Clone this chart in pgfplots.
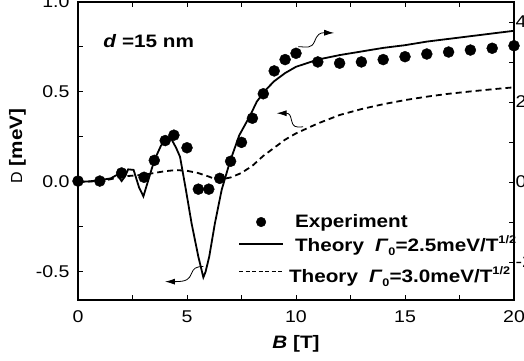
\documentclass[border=0pt]{standalone}
\usepackage{pgfplots}
\pgfplotsset{compat=1.18}
\usepackage{fontspec}
\setmainfont{Liberation Sans}[FakeStretch=1.15]
\newfontfamily\plainD{Liberation Sans}
\usetikzlibrary{arrows.meta}
\newcommand{\sub}[1]{\raisebox{-4pt}{\fontsize{11}{12}\selectfont #1}}
\newcommand{\sups}[1]{\raisebox{8pt}{\fontsize{11}{12}\selectfont #1}}
\begin{document}
\begin{tikzpicture}
\pgfplotsset{
  common/.style={
    scale only axis, width=436pt, height=298pt,
    xmin=0, xmax=20,
    tick align=inside,
    major tick length=5pt, minor tick length=5pt,
    every tick/.style={black, line width=1pt},
    axis line style={line width=1.4pt},
    /pgf/number format/assume math mode=true,
    tick label style={font=\fontsize{17}{20}\selectfont},
  }
}
\begin{axis}[common,
  ymin=-0.656, ymax=1.0,
  xtick={0,5,10,15,20}, xticklabels={0,5,10,15,20},
  minor xtick={2.5,7.5,12.5,17.5},
  ytick={-0.5,0,0.5,1.0}, yticklabels={-0.5,0.0,0.5,1.0},
  minor ytick={-0.25,0.25,0.75},
  ytick pos=left,
  xticklabel style={yshift=-7pt},
  yticklabel style={xshift=-5pt},
  xlabel={\textbf{\textit{B} [T]}},
  xlabel style={font=\fontsize{18}{20}\selectfont, at={(axis description cs:0.5,-0.147)}, anchor=center},
  ylabel={{\plainD\fontsize{16}{18}\selectfont D} \textbf{[meV]}},
  ylabel style={font=\fontsize{18}{20}\selectfont, at={(axis description cs:-0.139,0.517)}, anchor=center, rotate=0},
  clip mode=individual,
  legend image code/.code={\draw[#1] (0pt,0pt) -- (44pt,0pt);},
  legend style={draw=none, fill=none, at={(axis cs:7.34,-0.17)}, anchor=north west,
    font=\fontsize{18}{20}\selectfont, row sep=2pt,
    legend cell align=left, inner sep=0pt,
    nodes={inner sep=2pt, anchor=west}},
]
\addplot[only marks, mark=*, mark size=5.5pt, black,
  legend image code/.code={\fill (22pt,0pt) circle (4.8pt);}]
coordinates {(0,0.005)(1,0.005)(2,0.05)(3.03,0.026)(3.5,0.12)(4,0.23)(4.4,0.26)(5,0.19)(5.52,-0.04)(6,-0.04)(6.5,0.02)(7,0.115)(7.5,0.22)(8,0.354)(8.5,0.49)(9,0.617)(9.5,0.68)(10,0.715)(11,0.667)(12,0.66)(13,0.667)(14,0.68)(15,0.696)(16,0.711)(17,0.722)(18,0.733)(19,0.743)(20,0.757)};
\addlegendentry{\hspace{9pt}\textbf{Experiment}}
\addplot[black, line width=1.8pt]
coordinates {(0,0)(0.5,0.003)(1,0.01)(1.5,0.02)(1.8,0.04)(2.0,0.005)(2.15,0.03)(2.3,0.07)(2.55,0.067)(2.8,-0.03)(3.0,-0.08)(3.2,0.0)(3.5,0.12)(3.8,0.2)(4.0,0.235)(4.15,0.242)(4.3,0.235)(4.5,0.19)(4.68,0.14)(4.95,-0.044)(5.21,-0.23)(5.52,-0.415)(5.75,-0.53)(5.85,-0.5)(6.02,-0.415)(6.28,-0.23)(6.59,-0.044)(6.97,0.113)(7.4,0.26)(7.9,0.37)(8.2,0.446)(8.6,0.51)(9.0,0.56)(9.5,0.605)(10,0.64)(11,0.68)(12,0.705)(13,0.725)(14,0.745)(15,0.76)(16,0.78)(17,0.795)(18,0.81)(19,0.825)(20,0.84)};
\addlegendentry{\hspace{9pt}\textbf{Theory\hspace{11pt}\textit{Γ}\sub{0}=2.5meV/T\sups{1/2}}}
\addplot[black, line width=1.8pt, dash pattern=on 6pt off 4pt,
  legend image code/.code={\draw[black, line width=1.3pt, dash pattern=on 4pt off 2.5pt] (0pt,0pt) -- (44pt,0pt);}]
coordinates {(0,0)(1,0.005)(1.5,0.015)(2,0.03)(2.5,0.035)(3,0.04)(3.5,0.05)(4,0.06)(4.5,0.066)(5,0.062)(5.5,0.05)(6,0.03)(6.3,0.015)(6.6,0.015)(7,0.025)(7.5,0.05)(8,0.09)(8.5,0.145)(9,0.19)(9.5,0.235)(10,0.27)(11,0.325)(12,0.372)(13,0.405)(14,0.432)(15,0.455)(16,0.474)(17,0.49)(18,0.503)(19,0.515)(20,0.526)};
\addlegendentry{\rule{0pt}{24pt}\hspace{3pt}\textbf{Theory\hspace{11pt}\textit{Γ}\sub{0}=3.0meV/T\sups{1/2}}}
\node[anchor=base west, font=\fontsize{18}{20}\selectfont\bfseries] at (axis cs:1.0,0.745) {\textit{d} =15 nm};
\draw[line width=0.8pt, -{Latex[length=10pt,width=6pt]}] (axis cs:10.11,0.752) .. controls (axis cs:10.5,0.75) and (axis cs:10.7,0.74) .. (axis cs:10.85,0.78) .. controls (axis cs:10.97,0.82) and (axis cs:11.1,0.83) .. (axis cs:11.75,0.828);
\draw[line width=0.8pt, -{Latex[length=10pt,width=6pt]}] (axis cs:10.33,0.307) .. controls (axis cs:9.95,0.30) and (axis cs:9.85,0.31) .. (axis cs:9.8,0.34) .. controls (axis cs:9.75,0.37) and (axis cs:9.7,0.382) .. (axis cs:9.11,0.382);
\draw[line width=0.8pt, -{Latex[length=10pt,width=6pt]}] (axis cs:5.75,-0.47) .. controls (axis cs:5.4,-0.47) and (axis cs:5.3,-0.48) .. (axis cs:5.2,-0.51) .. controls (axis cs:5.1,-0.54) and (axis cs:5.0,-0.554) .. (axis cs:3.99,-0.554);
\end{axis}
\begin{axis}[common,
  ymin=-2.95, ymax=4.5,
  axis x line=none, axis y line*=right,
  ytick={-2,0,2,4}, yticklabels={-2,0,2,4},
  minor ytick={-1,1,3},
  yticklabel style={xshift=-2pt},
]
\addplot[draw=none] coordinates {(0,0)};
\end{axis}
\pgfresetboundingbox
\useasboundingbox (-78pt,-60pt) rectangle (446pt,300pt);
\end{tikzpicture}
\end{document}
